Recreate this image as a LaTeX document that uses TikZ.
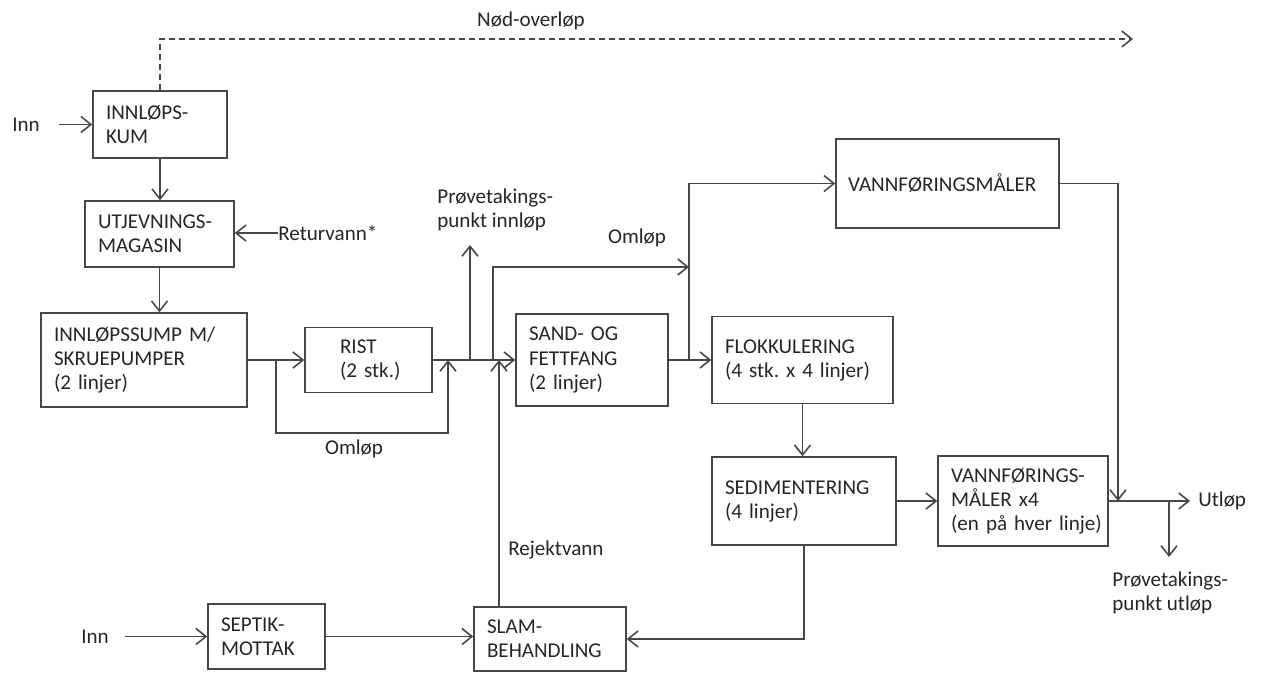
\documentclass[tikz,border=0pt]{standalone}
\usepackage{fontspec}
\setmainfont{Carlito}
\usepackage{tikz}
\usetikzlibrary{arrows.meta,positioning}
\hyphenpenalty=10000

\begin{document}
\begin{tikzpicture}[
    x=0.02cm, y=-0.02cm,
    unit/.style={rectangle, draw=black!72, line width=0.9pt, inner xsep=0.26cm, inner ysep=0pt, align=left, text=black!85, font=\fontsize{12}{13.7}\selectfont},
    lbl/.style={inner sep=0pt, align=left, text=black!85, font=\fontsize{12}{13.7}\selectfont},
    flow/.style={draw=black!72, line width=0.9pt, -{Straight Barb[length=2mm,width=3.2mm]}},
    overflow/.style={flow, dash pattern=on 0.12cm off 0.08cm}
]
\useasboundingbox (0,0) rectangle (1264,673);

% process units
\node (kum) [unit, text width=2.16cm, minimum height=1.34cm] at (160,124.5) {INNLØPS-\\KUM};
\node (mag) [unit, text width=2.46cm, minimum height=1.32cm] at (159.5,234) {UTJEVNINGS-\\MAGASIN};
\node (sump) [unit, text width=3.60cm, minimum height=1.88cm] at (144,360) {INNLØPSSUMP~M/\\SKRUEPUMPER\\(2~linjer)};
\node (rist) [unit, inner xsep=0.7cm, text width=1.14cm, minimum height=1.30cm] at (368.5,360) {RIST\\(2~stk.)};
\node (sand) [unit, text width=2.52cm, minimum height=1.84cm] at (592,360) {SAND-~OG\\FETTFANG\\(2~linjer)};
\node (flok) [unit, text width=3.10cm, minimum height=1.74cm] at (802.5,360) {FLOKKULERING\\(4~stk.~x~4~linjer)};
\node (vm) [unit, inner xsep=0.24cm, text width=3.98cm, minimum height=1.78cm] at (947.5,183.5) {VANNFØRINGSMÅLER};
\node (sed) [unit, text width=3.16cm, minimum height=1.76cm] at (804,501) {SEDIMENTERING\\(4~linjer)};
\node (vm4) [unit, text width=2.88cm, minimum height=1.80cm] at (1023,501) {VANNFØRINGS-\\MÅLER~x4\\(en~på~hver~linje)};
\node (septik) [unit, text width=1.82cm, minimum height=1.30cm] at (266.5,636.5) {SEPTIK-\\MOTTAK};
\node (slam) [unit, text width=2.52cm, minimum height=1.28cm] at (550,639) {SLAM-\\BEHANDLING};

% labels
\node (inn1) [lbl, anchor=west] at (12,124.5) {Inn};
\node (ret) [lbl, anchor=west] at (278,233) {Returvann*};
\node (omlop1) [lbl] at (354,449) {Omløp};
\node (omlop2) [lbl] at (637,238) {Omløp};
\node (provein) [lbl, anchor=west] at (437,210) {Prøvetakings-\\punkt innløp};
\node (utlop) [lbl, anchor=west] at (1198,501) {Utløp};
\node (proveut) [lbl, anchor=west] at (1112,593) {Prøvetakings-\\punkt utløp};
\node (rejekt) [lbl, anchor=west] at (508,550) {Rejektvann};
\node (inn2) [lbl, anchor=west] at (81,636.5) {Inn};
\node (nod) [lbl] at (531,21) {Nød-overløp};

% junctions
\coordinate (j1) at (276,360);
\coordinate (j2) at (448,360);
\coordinate (j3) at (470,360);
\coordinate (j4) at (493,360);
\coordinate (j5) at (499,360);
\coordinate (j6) at (689,360);
\coordinate (j7) at (1118,501);
\coordinate (j8) at (1169,501);
\coordinate (nodend) at (1133,39);

% flows
\draw [flow] ([xshift=0.38cm]inn1.east) -- (kum.west);
\draw [flow] (kum.south) -- (kum.south |- mag.north);
\draw [flow] (mag.south) -- (mag.south |- sump.north);
\draw [flow] (ret.west) -- (ret.west -| mag.east);
\draw [flow] (sump.east) -- (rist.west);
\draw [flow] (j1) -- ++(0,73) -| (j2);
\draw [flow] (rist.east) -- (sand.west);
\draw [flow] (j3) -- ++(0,-115);
\draw [flow] (j4) -- ++(0,-93) -- ++(196,0);
\draw [flow] (slam.north -| j5) -- (j5);
\draw [flow] (sand.east) -- (flok.west);
\draw [flow] (j6) |- (vm.west);
\draw [flow] (flok.south) -- (flok.south |- sed.north);
\draw [flow] (vm.east) -| (j7);
\draw [flow] (sed.east) -- (vm4.west);
\draw [flow] (vm4.east) -- ([xshift=-0.16cm]utlop.west);
\draw [flow] (j8) -- ++(0,56);
\draw [flow] (sed.south) |- (slam.east);
\draw [flow] ([xshift=0.32cm]inn2.east) -- (septik.west);
\draw [flow] (septik.east) -- (septik.east -| slam.west);
\draw [overflow] (kum.north) |- (nodend);

\end{tikzpicture}
\end{document}
